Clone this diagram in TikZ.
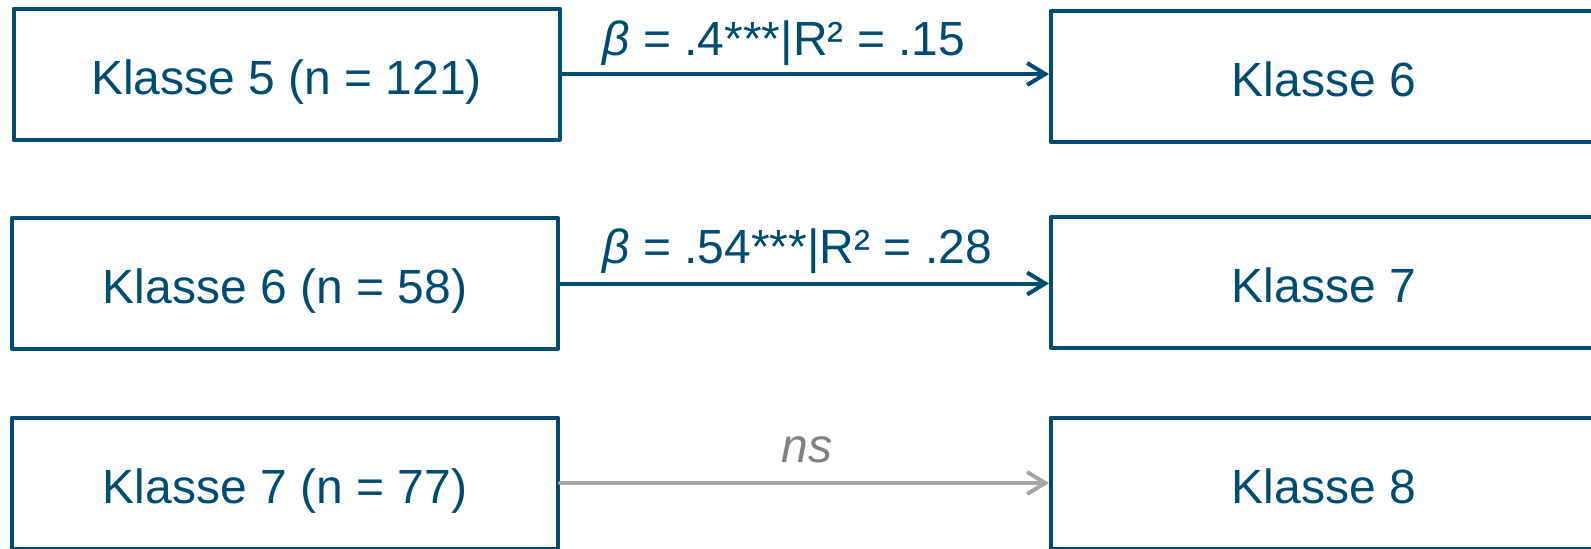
\documentclass[tikz,border=0pt]{standalone}
\usepackage{fontspec}
\setmainfont{Liberation Sans}
\usetikzlibrary{arrows.meta}
\definecolor{klblue}{RGB}{0,76,112}
\definecolor{nsline}{RGB}{166,166,166}
\definecolor{nstext}{RGB}{128,128,128}
\tikzset{
  klbox/.style={draw=klblue, line width=2pt, line join=round, text=klblue,
    minimum width=273pt, minimum height=65.5pt, inner sep=0pt,
    text height=20pt, text depth=0pt,
    font=\fontsize{24}{28}\selectfont},
  pfeil/.style={draw=klblue, line width=2pt, line cap=round,
    -{Straight Barb[length=9pt,width=11pt]}},
  koeff/.style={text=klblue, anchor=base west, inner sep=0pt,
    font=\fontsize{24}{28}\selectfont}
}
\begin{document}
\begin{tikzpicture}[x=0.5pt,y=-0.5pt]
\clip (0,0) rectangle (1591,548);
\node[klbox] (links5) at (286.5,74) {Klasse 5 (n = 121)};
\node[klbox] (rechts6) at (1324,76.5) {Klasse 6};
\node[klbox] (links6) at (285,283.5) {Klasse 6 (n = 58)};
\node[klbox] (rechts7) at (1324,282.5) {Klasse 7};
\node[klbox] (links7) at (285,483) {Klasse 7 (n = 77)};
\node[klbox] (rechts8) at (1324,483) {Klasse 8};
\draw[pfeil] (links5.east) -- (links5.east -| rechts6.west);
\draw[pfeil] (links6.east) -- (links6.east -| rechts7.west);
\draw[pfeil, draw=nsline] (links7.east) -- (links7.east -| rechts8.west);
\node[koeff] (lab5) at (602,55) {{\itshape β} = .4***|R² = .15};
\node[koeff] (lab6) at (602,263) {{\itshape β} = .54***|R² = .28};
\node[koeff, anchor=base, text=nstext, font=\fontsize{24}{28}\selectfont\itshape] (lab7) at (807,462) {ns};
\end{tikzpicture}
\end{document}
